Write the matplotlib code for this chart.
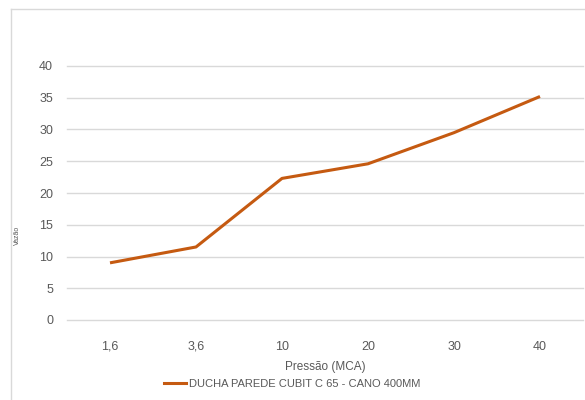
import matplotlib.pyplot as plt
from matplotlib.lines import Line2D

categories = ["1,6", "3,6", "10", "20", "30", "40"]
vazao = [9.0, 11.5, 22.3, 24.6, 29.5, 35.2]
y_ticks = [0, 5, 10, 15, 20, 25, 30, 35, 40]
series_name = "DUCHA PAREDE CUBIT C 65 - CANO 400MM"

plt.rcParams["font.family"] = ["Liberation Sans", "DejaVu Sans"]

grey = "#595959"
fig = plt.figure(figsize=(5.85, 4), dpi=100)
ax = fig.add_axes([67 / 585, 0.2, 516 / 585, 0.635])

x = list(range(len(categories)))
ax.plot(x, vazao, color="#C55A11", lw=2.2, solid_capstyle="butt")

ax.set_xlim(-0.5, len(categories) - 0.5)
ax.set_ylim(0, 40)
ax.set_yticks(y_ticks)
ax.set_xticks(x)
ax.set_xticklabels(categories)
for t in y_ticks:
    ax.axhline(t, color="#D9D9D9", lw=1, zorder=0, clip_on=False)
for s in ax.spines.values():
    s.set_visible(False)
ax.tick_params(length=0, labelsize=9, colors=grey)
ax.tick_params(axis="y", pad=10)
ax.tick_params(axis="x", pad=15)
ax.set_xlabel("Pressão (MCA)", fontsize=8.5, color=grey, labelpad=6)

# y label (tiny in the original)
fig.text(17 / 585, 1 - 235 / 400, "Vazão", rotation=90, fontsize=5,
         color=grey, ha="center", va="center")

handle = Line2D([], [], color="#C55A11", lw=2.2)
fig.legend([handle], [series_name], loc="center", bbox_to_anchor=(292 / 585, 1 - 384 / 400),
           frameon=False, fontsize=8, labelcolor=grey, handlelength=2, handletextpad=0.3)

# chart border
fig.add_artist(Line2D([11 / 585, 1], [1 - 9 / 400] * 2, color="#D9D9D9", lw=1, transform=fig.transFigure))
fig.add_artist(Line2D([11 / 585] * 2, [0, 1 - 9 / 400], color="#D9D9D9", lw=1, transform=fig.transFigure))

fig.savefig("out.png", dpi=100, facecolor="white")
